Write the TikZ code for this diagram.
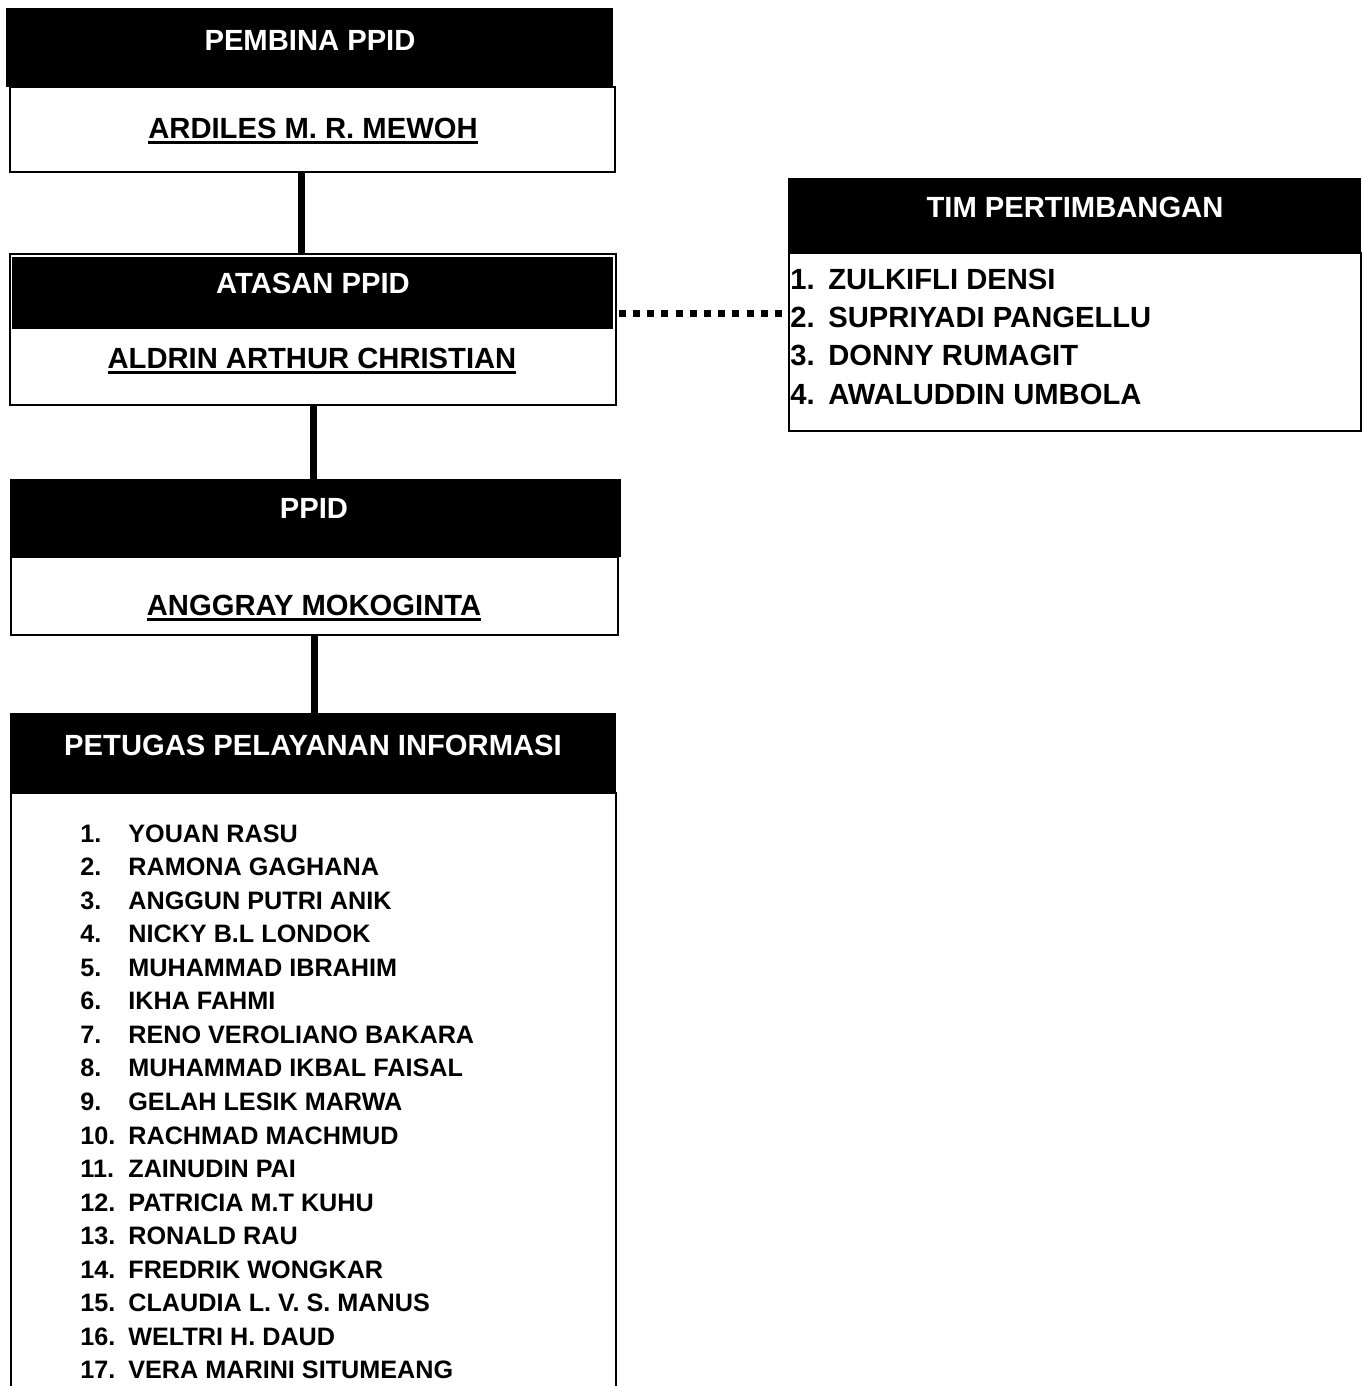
\documentclass[tikz,border=0pt]{standalone}
\usepackage{fontspec}
\setmainfont{Liberation Sans}
\newcommand{\nameline}[1]{\setbox0\hbox{#1}\rlap{\rule[-2.6pt]{\wd0}{1.3pt}}\box0}
\usetikzlibrary{positioning,calc}
\tikzset{
  headbox/.style={rectangle,draw=black,fill=black,inner sep=0pt,anchor=north west},
  bodybox/.style={rectangle,draw=black,line width=1pt,fill=white,inner sep=0pt,anchor=north west},
  headtext/.style={font=\bfseries\fontsize{14.6}{17}\selectfont,text=white,anchor=base,inner sep=0pt},
  nametext/.style={font=\bfseries\fontsize{14.6}{17}\selectfont,text=black,anchor=base,inner sep=0pt},
  timitem/.style={font=\bfseries\fontsize{14.6}{17}\selectfont,anchor=base west,inner sep=0pt},
  listitem/.style={font=\bfseries\fontsize{12.6}{15}\selectfont,anchor=base west,inner sep=0pt},
  link/.style={line width=3.5pt},
  dotline/.style={line width=3.5pt,dash pattern=on 3.5pt off 3.6pt}
}

\begin{document}
\begin{tikzpicture}[x=0.5pt,y=-0.5pt]
  \clip (0,0) rectangle (1363,1386);
  % boxes
  \node[bodybox,minimum width=302.5pt,minimum height=42.5pt] (pembina) at (9,86) {};
  \node[headbox,minimum width=303pt,minimum height=39pt] (pembinahead) at (6,8) {};
  \node[bodybox,minimum width=303pt,minimum height=75.5pt] (atasan) at (9,253) {};
  \node[headbox,minimum width=300pt,minimum height=35.5pt] (atasanhead) at (12,257) {};
  \node[bodybox,minimum width=303.5pt,minimum height=39pt] (ppid) at (10,556) {};
  \node[headbox,minimum width=305pt,minimum height=38.5pt] (ppidhead) at (10,479) {};
  \node[bodybox,minimum width=302.5pt,minimum height=304pt] (petugas) at (10,792) {};
  \node[headbox,minimum width=302.5pt,minimum height=39.5pt] (petugashead) at (10,713) {};
  \node[bodybox,minimum width=286pt,minimum height=89pt] (tim) at (788,252) {};
  \node[headbox,minimum width=286pt,minimum height=37pt] (timhead) at (788,178) {};
  % labels
  \node[headtext] (pembinalbl) at (310,50.5) {PEMBINA PPID};
  \node[nametext] (pembinaname) at (313,138.5) {\nameline{ARDILES M. R. MEWOH}};
  \node[headtext] (atasanlbl) at (313,293.5) {ATASAN PPID};
  \node[nametext] (atasanname) at (312,368.5) {\nameline{ALDRIN ARTHUR CHRISTIAN}};
  \node[headtext] (ppidlbl) at (314,518.5) {PPID};
  \node[nametext] (ppidname) at (314,615.5) {\nameline{ANGGRAY MOKOGINTA}};
  \node[headtext] (petugaslbl) at (313,755.5) {PETUGAS PELAYANAN INFORMASI};
  \node[headtext] (timlbl) at (1075,217.5) {TIM PERTIMBANGAN};
  \foreach \who [count=\i] in {ZULKIFLI DENSI,SUPRIYADI PANGELLU,DONNY RUMAGIT,AWALUDDIN UMBOLA}
    \node[timitem] (tim\i) at (790,{289+(\i-1)*38.4}) {\makebox[19pt][l]{\i.}\who};
  \foreach \who [count=\i] in {YOUAN RASU,RAMONA GAGHANA,ANGGUN PUTRI ANIK,NICKY B.L LONDOK,
      MUHAMMAD IBRAHIM,IKHA FAHMI,RENO VEROLIANO BAKARA,MUHAMMAD IKBAL FAISAL,GELAH LESIK MARWA,
      RACHMAD MACHMUD,ZAINUDIN PAI,PATRICIA M.T KUHU,RONALD RAU,FREDRIK WONGKAR,
      CLAUDIA L. V. S. MANUS,WELTRI H. DAUD,VERA MARINI SITUMEANG}
    \node[listitem] (pet\i) at (80,{842+(\i-1)*33.56}) {\makebox[24pt][l]{\i.}\who};
  % connectors
  \draw[link] ([xshift=-5.5pt]pembina.south) -- ([xshift=-5.75pt]atasan.north);
  \draw[link] (atasan.south) -- (atasan.south |- ppidhead.north);
  \draw[link] (ppid.south) -- (ppid.south |- petugashead.north);
  \coordinate (dotstart) at ([xshift=3pt,yshift=-10.25pt]atasanhead.east);
  \draw[dotline] (dotstart) -- (dotstart -| tim.west);
\end{tikzpicture}
\end{document}
